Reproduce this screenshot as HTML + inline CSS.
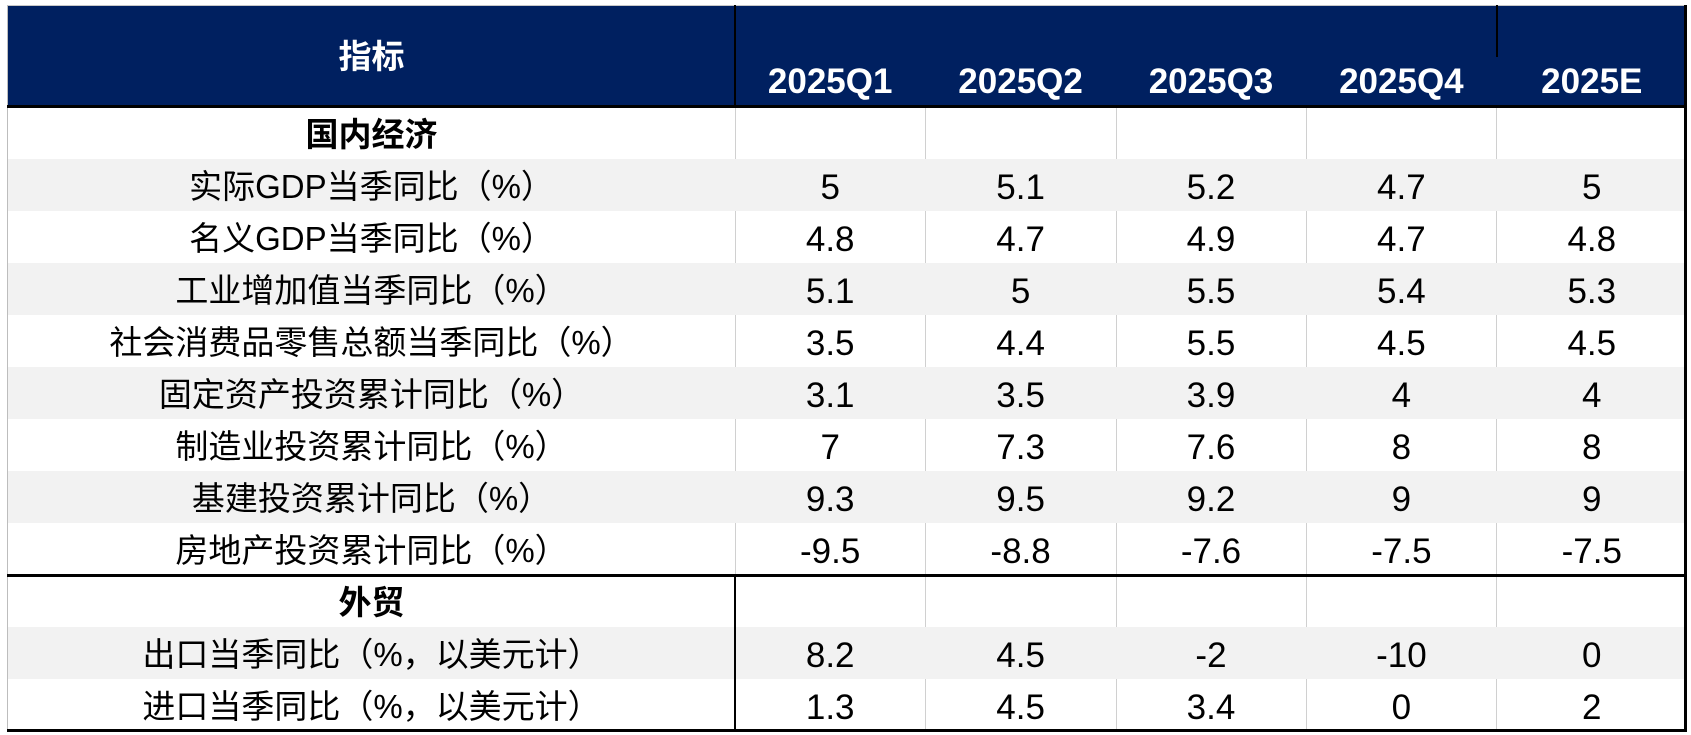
<!DOCTYPE html>
<html>
<head>
<meta charset="utf-8">
<style>
  html,body{margin:0;padding:0;background:#fff;}
  body{width:1691px;height:735px;position:relative;overflow:hidden;font-family:"Liberation Sans","Noto Sans CJK SC",sans-serif;color:#000;}
  .abs{position:absolute;}
  .hdr{left:7px;top:5px;width:1680px;height:102px;background:#002060;}
  .gray{background:#f2f2f2;}
  .rowbg{position:absolute;left:8px;width:1677px;height:52px;}
  .vl{position:absolute;width:1px;background:#d0d0d0;height:52px;}
  .blk{position:absolute;background:#000;}
  .t{position:absolute;height:52px;line-height:52px;text-align:center;white-space:nowrap;}
  .lab{left:8px;width:727px;font-size:33px;padding-top:2px;box-sizing:border-box;}
  .sec{font-weight:bold;}
  .num{font-size:35px;width:190.4px;padding-top:3px;box-sizing:border-box;}
  .hd{position:absolute;color:#fff;font-weight:bold;text-align:center;white-space:nowrap;}
</style>
</head>
<body>
<!-- header background -->
<div class="abs hdr"></div>
<div class="abs" style="left:7px;top:5px;width:1680px;height:1px;background:#c8c8c8;"></div>
<!-- left border -->
<div class="abs" style="left:7px;top:5px;width:1px;height:726px;background:#bdbdbd;"></div>

<!-- gray rows: indices 1,3,5,7,10 -->
<div class="rowbg gray" style="top:159px;"></div>
<div class="rowbg gray" style="top:263px;"></div>
<div class="rowbg gray" style="top:367px;"></div>
<div class="rowbg gray" style="top:471px;"></div>
<div class="rowbg gray" style="top:627px;"></div>

<!-- vertical gridlines in white rows -->
<!-- row tops white: 107,211,315,419,523 (domestic), 575,679 (trade) -->
<div class="vl" style="left:735px;top:107px;"></div>
<div class="vl" style="left:735px;top:211px;"></div>
<div class="vl" style="left:735px;top:315px;"></div>
<div class="vl" style="left:735px;top:419px;"></div>
<div class="vl" style="left:735px;top:523px;"></div>

<div class="vl" style="left:925px;top:107px;"></div>
<div class="vl" style="left:925px;top:211px;"></div>
<div class="vl" style="left:925px;top:315px;"></div>
<div class="vl" style="left:925px;top:419px;"></div>
<div class="vl" style="left:925px;top:523px;"></div>
<div class="vl" style="left:925px;top:575px;"></div>
<div class="vl" style="left:925px;top:679px;"></div>

<div class="vl" style="left:1116px;top:107px;"></div>
<div class="vl" style="left:1116px;top:211px;"></div>
<div class="vl" style="left:1116px;top:315px;"></div>
<div class="vl" style="left:1116px;top:419px;"></div>
<div class="vl" style="left:1116px;top:523px;"></div>
<div class="vl" style="left:1116px;top:575px;"></div>
<div class="vl" style="left:1116px;top:679px;"></div>

<div class="vl" style="left:1306px;top:107px;"></div>
<div class="vl" style="left:1306px;top:211px;"></div>
<div class="vl" style="left:1306px;top:315px;"></div>
<div class="vl" style="left:1306px;top:419px;"></div>
<div class="vl" style="left:1306px;top:523px;"></div>
<div class="vl" style="left:1306px;top:575px;"></div>
<div class="vl" style="left:1306px;top:679px;"></div>

<div class="vl" style="left:1496px;top:107px;"></div>
<div class="vl" style="left:1496px;top:211px;"></div>
<div class="vl" style="left:1496px;top:315px;"></div>
<div class="vl" style="left:1496px;top:419px;"></div>
<div class="vl" style="left:1496px;top:523px;"></div>
<div class="vl" style="left:1496px;top:575px;"></div>
<div class="vl" style="left:1496px;top:679px;"></div>

<!-- black lines -->
<div class="blk" style="left:734px;top:5px;width:2px;height:102px;"></div>
<div class="blk" style="left:1496px;top:5px;width:2px;height:52px;"></div>
<div class="blk" style="left:7px;top:105px;width:1680px;height:3px;"></div>
<div class="blk" style="left:7px;top:574px;width:1680px;height:3px;"></div>
<div class="blk" style="left:734px;top:575px;width:2px;height:156px;"></div>
<div class="blk" style="left:7px;top:729px;width:1680px;height:3px;"></div>
<div class="blk" style="left:1684px;top:5px;width:3px;height:727px;"></div>

<!-- header text -->
<div class="hd" style="left:8px;width:727px;top:35px;height:44px;line-height:44px;font-size:33px;">指标</div>
<div class="hd" style="left:735px;width:190.4px;top:60px;height:44px;line-height:44px;font-size:35px;">2025Q1</div>
<div class="hd" style="left:925.4px;width:190.4px;top:60px;height:44px;line-height:44px;font-size:35px;">2025Q2</div>
<div class="hd" style="left:1115.8px;width:190.4px;top:60px;height:44px;line-height:44px;font-size:35px;">2025Q3</div>
<div class="hd" style="left:1306.2px;width:190.4px;top:60px;height:44px;line-height:44px;font-size:35px;">2025Q4</div>
<div class="hd" style="left:1496.6px;width:190.4px;top:60px;height:44px;line-height:44px;font-size:35px;">2025E</div>

<!-- Row 0: 国内经济 -->
<div class="t lab sec" style="top:107px;">国内经济</div>

<!-- Row 1 -->
<div class="t lab" style="top:159px;">实际GDP当季同比（%）</div>
<div class="t num" style="top:159px;left:735px;">5</div>
<div class="t num" style="top:159px;left:925.4px;">5.1</div>
<div class="t num" style="top:159px;left:1115.8px;">5.2</div>
<div class="t num" style="top:159px;left:1306.2px;">4.7</div>
<div class="t num" style="top:159px;left:1496.6px;">5</div>

<!-- Row 2 -->
<div class="t lab" style="top:211px;">名义GDP当季同比（%）</div>
<div class="t num" style="top:211px;left:735px;">4.8</div>
<div class="t num" style="top:211px;left:925.4px;">4.7</div>
<div class="t num" style="top:211px;left:1115.8px;">4.9</div>
<div class="t num" style="top:211px;left:1306.2px;">4.7</div>
<div class="t num" style="top:211px;left:1496.6px;">4.8</div>

<!-- Row 3 -->
<div class="t lab" style="top:263px;">工业增加值当季同比（%）</div>
<div class="t num" style="top:263px;left:735px;">5.1</div>
<div class="t num" style="top:263px;left:925.4px;">5</div>
<div class="t num" style="top:263px;left:1115.8px;">5.5</div>
<div class="t num" style="top:263px;left:1306.2px;">5.4</div>
<div class="t num" style="top:263px;left:1496.6px;">5.3</div>

<!-- Row 4 -->
<div class="t lab" style="top:315px;">社会消费品零售总额当季同比（%）</div>
<div class="t num" style="top:315px;left:735px;">3.5</div>
<div class="t num" style="top:315px;left:925.4px;">4.4</div>
<div class="t num" style="top:315px;left:1115.8px;">5.5</div>
<div class="t num" style="top:315px;left:1306.2px;">4.5</div>
<div class="t num" style="top:315px;left:1496.6px;">4.5</div>

<!-- Row 5 -->
<div class="t lab" style="top:367px;">固定资产投资累计同比（%）</div>
<div class="t num" style="top:367px;left:735px;">3.1</div>
<div class="t num" style="top:367px;left:925.4px;">3.5</div>
<div class="t num" style="top:367px;left:1115.8px;">3.9</div>
<div class="t num" style="top:367px;left:1306.2px;">4</div>
<div class="t num" style="top:367px;left:1496.6px;">4</div>

<!-- Row 6 -->
<div class="t lab" style="top:419px;">制造业投资累计同比（%）</div>
<div class="t num" style="top:419px;left:735px;">7</div>
<div class="t num" style="top:419px;left:925.4px;">7.3</div>
<div class="t num" style="top:419px;left:1115.8px;">7.6</div>
<div class="t num" style="top:419px;left:1306.2px;">8</div>
<div class="t num" style="top:419px;left:1496.6px;">8</div>

<!-- Row 7 -->
<div class="t lab" style="top:471px;">基建投资累计同比（%）</div>
<div class="t num" style="top:471px;left:735px;">9.3</div>
<div class="t num" style="top:471px;left:925.4px;">9.5</div>
<div class="t num" style="top:471px;left:1115.8px;">9.2</div>
<div class="t num" style="top:471px;left:1306.2px;">9</div>
<div class="t num" style="top:471px;left:1496.6px;">9</div>

<!-- Row 8 -->
<div class="t lab" style="top:523px;">房地产投资累计同比（%）</div>
<div class="t num" style="top:523px;left:735px;">-9.5</div>
<div class="t num" style="top:523px;left:925.4px;">-8.8</div>
<div class="t num" style="top:523px;left:1115.8px;">-7.6</div>
<div class="t num" style="top:523px;left:1306.2px;">-7.5</div>
<div class="t num" style="top:523px;left:1496.6px;">-7.5</div>

<!-- Row 9: 外贸 -->
<div class="t lab sec" style="top:575px;">外贸</div>

<!-- Row 10 -->
<div class="t lab" style="top:627px;">出口当季同比（%，以美元计）</div>
<div class="t num" style="top:627px;left:735px;">8.2</div>
<div class="t num" style="top:627px;left:925.4px;">4.5</div>
<div class="t num" style="top:627px;left:1115.8px;">-2</div>
<div class="t num" style="top:627px;left:1306.2px;">-10</div>
<div class="t num" style="top:627px;left:1496.6px;">0</div>

<!-- Row 11 -->
<div class="t lab" style="top:679px;">进口当季同比（%，以美元计）</div>
<div class="t num" style="top:679px;left:735px;">1.3</div>
<div class="t num" style="top:679px;left:925.4px;">4.5</div>
<div class="t num" style="top:679px;left:1115.8px;">3.4</div>
<div class="t num" style="top:679px;left:1306.2px;">0</div>
<div class="t num" style="top:679px;left:1496.6px;">2</div>
</body>
</html>
